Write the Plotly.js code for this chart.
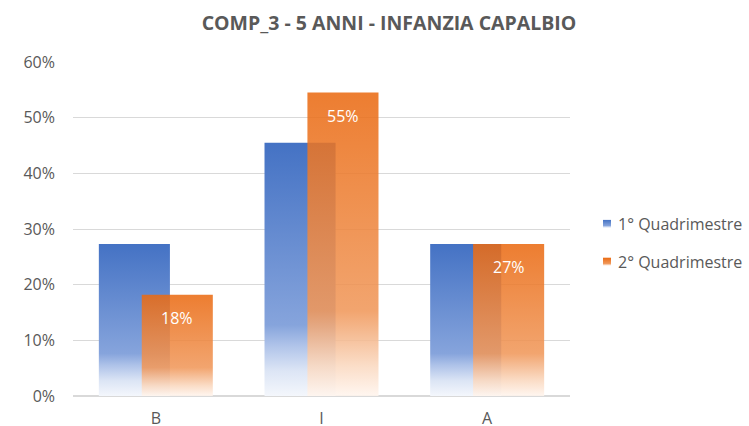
<!DOCTYPE html>
<html>
<head>
<meta charset="utf-8">
<script src="https://cdn.plot.ly/plotly-3.0.1.min.js"></script>
<style>
  html, body { margin: 0; padding: 0; background: #fff; }
  #chart { width: 749px; height: 426px; }
  #frame { position: absolute; left: 8px; top: 0; width: 2px; height: 426px; background: #D9D9D9; }
</style>
</head>
<body>
<div id="frame"></div>
<div id="chart"></div>
<script>
const categories = ['B', 'I', 'A'];
const q1Values = [0.273, 0.455, 0.273];
const q2Values = [0.182, 0.545, 0.273];
const seriesNames = ['1° Quadrimestre', '2° Quadrimestre'];
const chartTitle = 'COMP_3 - 5 ANNI - INFANZIA CAPALBIO';

const BAR_W = 0.429;
const OFF1 = -0.344;
const OFF2 = -0.085;
const FONT = 'Open Sans, Lato, sans-serif';
const GREY = '#595959';

const traces = [
  {
    type: 'bar', name: seriesNames[0], x: categories, y: q1Values,
    width: BAR_W, offset: OFF1,
    marker: { color: '#4472C4', line: { width: 0 } },
    hoverinfo: 'none', legendgroup: 'a'
  },
  {
    type: 'bar', name: seriesNames[1], x: categories, y: q2Values,
    width: BAR_W, offset: OFF2,
    marker: { color: '#EA6A12', opacity: 0.87, line: { width: 0 } },
    hoverinfo: 'none', legendgroup: 'b'
  }
];

const annotations = q2Values.map((v, i) => ({
  x: i + OFF2 + BAR_W / 2, y: v, xref: 'x', yref: 'y',
  text: Math.round(v * 100) + '%', showarrow: false,
  yshift: -23, font: { family: FONT, size: 16, color: '#FFFFFF' }
}));

const layout = {
  width: 749, height: 426,
  margin: { l: 73, r: 179, t: 62, b: 30 },
  paper_bgcolor: '#FFFFFF', plot_bgcolor: '#FFFFFF',
  barmode: 'overlay',
  title: {
    text: '<b>' + chartTitle + '</b>',
    x: 389 / 749, xref: 'container', xanchor: 'center',
    y: 1 - 23 / 426, yref: 'container', yanchor: 'middle',
    font: { family: FONT, size: 19.5, color: GREY }
  },
  xaxis: {
    type: 'category', range: [-0.5, 2.5],
    showgrid: false, zeroline: false, showline: false, ticks: '',
    tickfont: { family: FONT, size: 16, color: GREY },
    ticklabelstandoff: 11
  },
  yaxis: {
    range: [0, 0.6], dtick: 0.1, tickformat: '.0%',
    gridcolor: '#D9D9D9', gridwidth: 1,
    zeroline: true, zerolinecolor: '#D9D9D9', zerolinewidth: 2,
    showline: false, ticks: '',
    tickfont: { family: FONT, size: 16, color: GREY },
    ticklabelstandoff: 17
  },
  legend: {
    x: 578 / 749, xref: 'container', xanchor: 'left',
    y: 1 - 207 / 426, yref: 'container', yanchor: 'top',
    traceorder: 'grouped', tracegroupgap: 14,
    font: { family: FONT, size: 16, color: GREY },
    bgcolor: 'rgba(0,0,0,0)'
  },
  annotations: annotations,
  showlegend: true
};

function addGradients(gd) {
  const svg = gd.querySelector('svg.main-svg');
  const ns = 'http://www.w3.org/2000/svg';
  let defs = svg.querySelector('defs');
  if (!defs) { defs = document.createElementNS(ns, 'defs'); svg.insertBefore(defs, svg.firstChild); }
  const grads = {
    gBlue: [[0, '#4472C4'], [0.72, '#86A4DC'], [0.8, '#AFC3E9'], [0.9, '#DCE5F5'], [1, '#F4F7FC']],
    gOrange: [[0, '#EA6A12'], [0.72, '#F09759'], [0.8, '#F4B487'], [0.9, '#FAD8BF'], [1, '#FFF5EE']]
  };
  Object.keys(grads).forEach(id => {
    const lg = document.createElementNS(ns, 'linearGradient');
    lg.setAttribute('id', id);
    lg.setAttribute('x1', '0'); lg.setAttribute('y1', '0');
    lg.setAttribute('x2', '0'); lg.setAttribute('y2', '1');
    grads[id].forEach(([o, c]) => {
      const s = document.createElementNS(ns, 'stop');
      s.setAttribute('offset', o); s.setAttribute('stop-color', c);
      lg.appendChild(s);
    });
    defs.appendChild(lg);
  });
  const barTraces = gd.querySelectorAll('.barlayer .trace.bars');
  barTraces.forEach((t, i) => {
    t.querySelectorAll('path').forEach(p => { p.style.fill = i === 0 ? 'url(#gBlue)' : 'url(#gOrange)'; });
  });
  const items = gd.querySelectorAll('.legend .traces');
  items.forEach((item, i) => {
    const p = item.querySelector('.legendpoints path');
    const txt = item.querySelector('text.legendtext');
    if (!p || !txt) return;
    p.setAttribute('d', 'M4,4H-4V-4H4Z');
    p.removeAttribute('transform');
    p.style.fill = i === 0 ? 'url(#gBlue)' : 'url(#gOrange)';
    const pr = p.getBoundingClientRect();
    const tr = txt.getBoundingClientRect();
    const cx = (pr.left + pr.right) / 2;
    const target = tr.left - 11;
    p.setAttribute('transform', 'translate(' + (target - cx) + ',0)');
  });
}

Plotly.newPlot('chart', traces, layout, { staticPlot: true, displayModeBar: false })
  .then(addGradients);
</script>
</body>
</html>
